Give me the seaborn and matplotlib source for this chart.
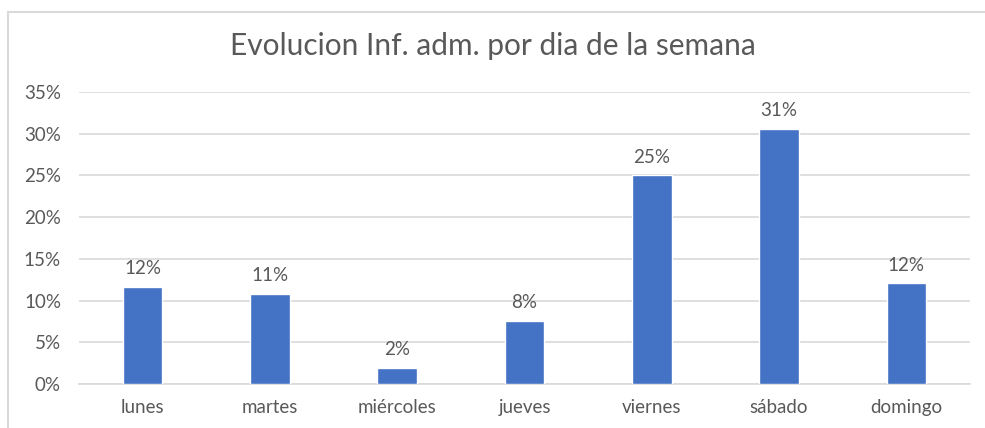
import matplotlib
matplotlib.use("Agg")
import matplotlib.pyplot as plt
from matplotlib.lines import Line2D
from matplotlib.ticker import MultipleLocator, PercentFormatter
import pandas as pd
import seaborn as sns

dias = ["lunes", "martes", "miércoles", "jueves", "viernes", "sábado", "domingo"]
porcentajes = [11.65, 10.8, 1.95, 7.6, 25.0, 30.6, 12.05]
etiquetas = ["12%", "11%", "2%", "8%", "25%", "31%", "12%"]

df = pd.DataFrame({"dia": dias, "pct": porcentajes})

sns.set_style("white")
plt.rcParams["font.family"] = ["Lato", "DejaVu Sans"]
gris = "#595959"

fig = plt.figure(figsize=(9.85, 4.28), dpi=100)
ax = fig.add_axes([79 / 985, 1 - 384 / 428, (970 - 79) / 985, (384 - 92) / 428])

sns.barplot(data=df, x="dia", y="pct", color="#4472C4", width=0.31,
            saturation=1, ax=ax, zorder=3)

for p, txt in zip(ax.patches, etiquetas):
    ax.annotate(txt, (p.get_x() + p.get_width() / 2, p.get_height()),
                xytext=(0, 7), textcoords="offset points",
                ha="center", va="bottom", fontsize=13.5, color=gris)

ax.set_ylim(0, 35)
ax.yaxis.set_major_locator(MultipleLocator(5))
ax.yaxis.set_major_formatter(PercentFormatter(decimals=0))
ax.grid(axis="y", color="#D9D9D9", linewidth=1.2, zorder=0)
ax.set_xlabel("")
ax.set_ylabel("")
for s in ["top", "right", "left"]:
    ax.spines[s].set_visible(False)
ax.spines["bottom"].set_color("#D9D9D9")
ax.spines["bottom"].set_linewidth(1.2)
ax.tick_params(axis="both", length=0, labelsize=13.5, colors=gris)
ax.tick_params(axis="x", pad=11)
ax.tick_params(axis="y", pad=13)

fig.text(0.5, 1 - 46 / 428, "Evolucion Inf. adm. por dia de la semana",
         ha="center", va="center", fontsize=21.5, color=gris)

# marco del gráfico
fig.add_artist(Line2D([8 / 985, 1], [1 - 12 / 428] * 2, color="#D9D9D9", lw=1.5))
fig.add_artist(Line2D([8 / 985] * 2, [0, 1 - 12 / 428], color="#D9D9D9", lw=1.5))

fig.savefig("out.png", dpi=100)
